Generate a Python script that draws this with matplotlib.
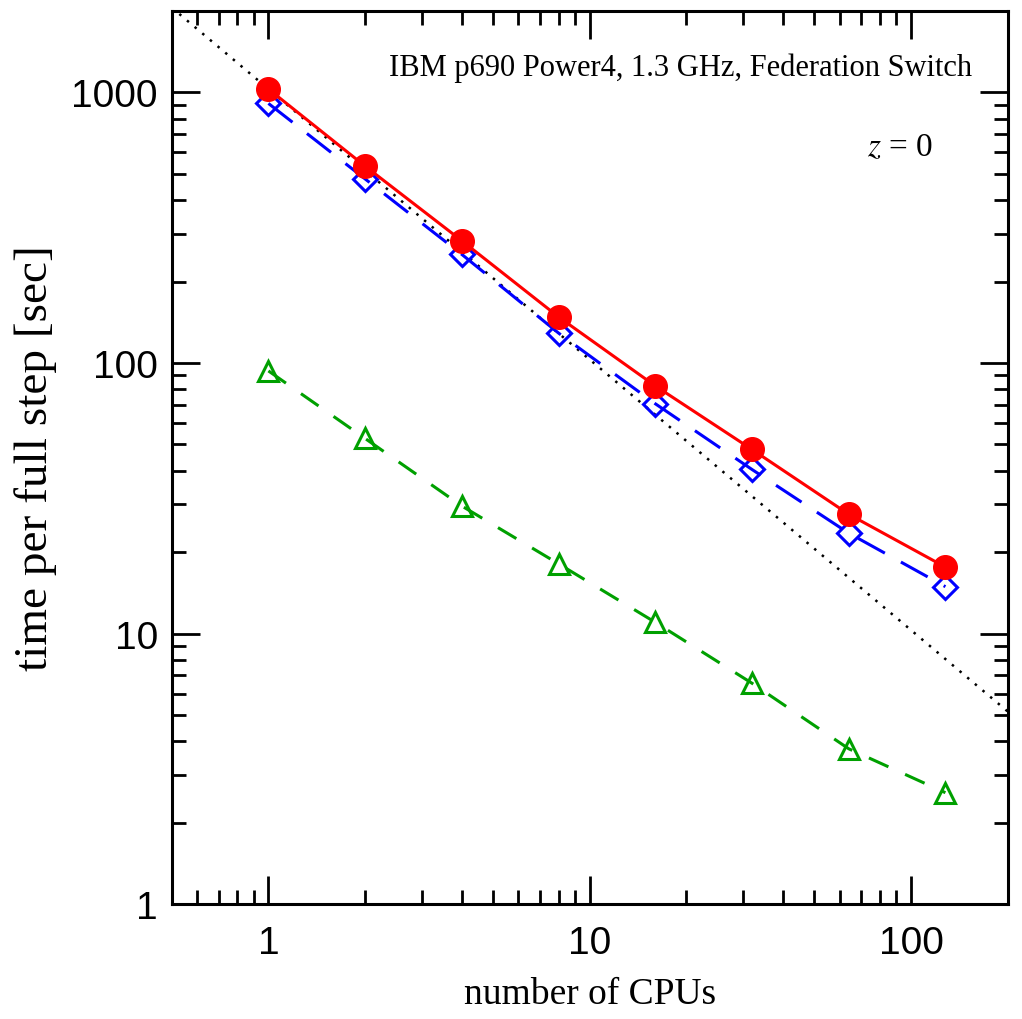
import numpy as np
import matplotlib
matplotlib.use("Agg")
import matplotlib.pyplot as plt
from matplotlib.ticker import FixedLocator, FixedFormatter, LogLocator, NullFormatter

cpus = [1, 2, 4, 8, 16, 32, 64, 128]
total = [1030, 534, 283, 148, 82.3, 47.9, 27.6, 17.6]
gravity = [911, 479, 252, 129, 70.7, 40.4, 23.5, 14.9]
hydro = [93.5, 52.6, 29.6, 18.1, 11.0, 6.55, 3.75, 2.58]
ideal_ref = 1030
ideal_x = [0.5, 200]

xticks = [1, 10, 100]
xticklabels = ["1", "10", "100"]
yticks = [1, 10, 100, 1000]
yticklabels = ["1", "10", "100", "1000"]

title_text = "IBM p690 Power4, 1.3 GHz, Federation Switch"

plt.rcParams["mathtext.fontset"] = "stix"

fig = plt.figure(figsize=(10.22, 10.20), dpi=100)
ax = fig.add_axes([0.168, 0.1127, 0.818, 0.8755])
ax.set_xscale("log")
ax.set_yscale("log")
ax.set_xlim(0.5, 200)
ax.set_ylim(1, 2000)

ix = np.array(ideal_x, dtype=float)
ax.plot(ix, ideal_ref / ix, linestyle=(0, (1, 3)), color="black", lw=1.8, zorder=1)

ax.plot(cpus, hydro, color="#00a000", lw=2.2, linestyle=(0, (7, 6)),
        marker="^", markersize=15, markerfacecolor="none", markeredgecolor="#00a000",
        markeredgewidth=2.2, zorder=2)
ax.plot(cpus, gravity, color="#0000ff", lw=2.2, linestyle=(0, (10, 6)),
        marker="D", markersize=12, markerfacecolor="none", markeredgecolor="#0000ff",
        markeredgewidth=2.2, zorder=3)
ax.plot(cpus, total, color="#ff0000", lw=2.2, linestyle="-",
        marker="o", markersize=17, markerfacecolor="#ff0000", markeredgecolor="#ff0000",
        zorder=4)

ax.xaxis.set_major_locator(FixedLocator(xticks))
ax.xaxis.set_major_formatter(FixedFormatter(xticklabels))
ax.yaxis.set_major_locator(FixedLocator(yticks))
ax.yaxis.set_major_formatter(FixedFormatter(yticklabels))
ax.xaxis.set_minor_locator(LogLocator(base=10, subs=np.arange(2, 10), numticks=20))
ax.yaxis.set_minor_locator(LogLocator(base=10, subs=np.arange(2, 10), numticks=20))
ax.xaxis.set_minor_formatter(NullFormatter())
ax.yaxis.set_minor_formatter(NullFormatter())

ax.tick_params(which="both", direction="in", top=True, right=True, width=2, colors="black")
ax.tick_params(which="major", length=20)
ax.tick_params(which="minor", length=10)
ax.tick_params(axis="x", which="major", pad=15, labelsize=28)
ax.tick_params(axis="y", which="major", pad=10, labelsize=28)
for lab in ax.get_xticklabels() + ax.get_yticklabels():
    lab.set_family("Liberation Sans")
for s in ax.spines.values():
    s.set_linewidth(2.2)

ax.set_xlabel("number of CPUs", fontsize=27, family="Liberation Serif", labelpad=11)
ax.set_ylabel("time per full step [sec]", fontsize=34, family="Liberation Serif", labelpad=10)

ax.text(0.957, 0.937, title_text, transform=ax.transAxes, ha="right", va="center",
        fontsize=22, family="Liberation Serif")
ax.text(0.911, 0.848, r"$z$ = 0", transform=ax.transAxes, ha="right", va="center",
        fontsize=24, family="Liberation Serif")

fig.savefig("out.png", dpi=100)
